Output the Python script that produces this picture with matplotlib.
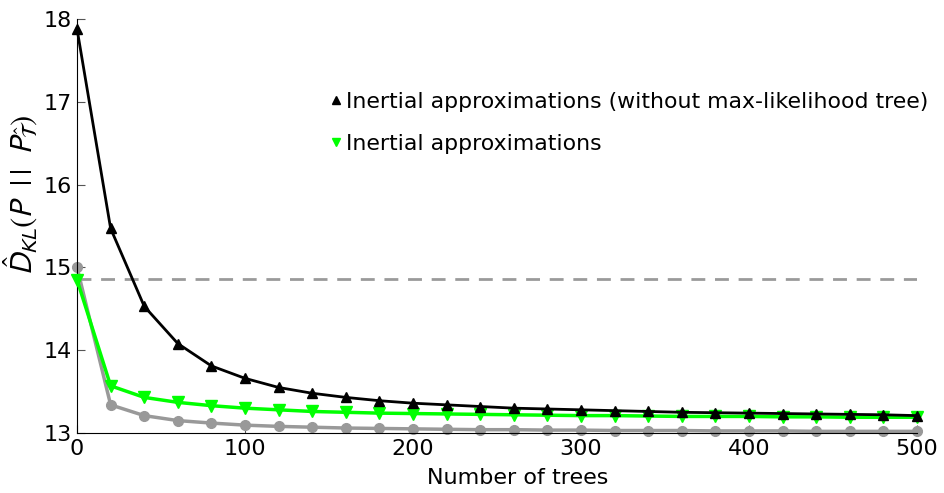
import matplotlib
matplotlib.use("Agg")
import matplotlib.pyplot as plt

plt.rcParams['font.family'] = ['DejaVu Sans']
plt.rcParams['mathtext.fontset'] = 'stixsans'

n_trees = list(range(0, 501, 20))

# KL divergence estimates per number of trees
kl_no_ml = [17.88, 15.47, 14.53, 14.08, 13.81, 13.66, 13.55, 13.48, 13.43, 13.39,
            13.36, 13.34, 13.32, 13.30, 13.29, 13.28, 13.27, 13.26, 13.25, 13.245,
            13.24, 13.235, 13.23, 13.225, 13.22, 13.21]
kl_inertial = [14.85, 13.57, 13.43, 13.37, 13.33, 13.30, 13.28, 13.26, 13.25, 13.24,
               13.235, 13.23, 13.225, 13.22, 13.215, 13.21, 13.21, 13.205, 13.20, 13.20,
               13.20, 13.195, 13.195, 13.19, 13.19, 13.19]
kl_gray = [15.0, 13.34, 13.21, 13.15, 13.12, 13.095, 13.08, 13.07, 13.06, 13.055,
           13.05, 13.045, 13.04, 13.04, 13.035, 13.035, 13.03, 13.03, 13.03, 13.025,
           13.025, 13.025, 13.02, 13.02, 13.02, 13.02]
ml_tree = 14.86

fig = plt.figure(figsize=(9.44, 4.93), dpi=100)
ax = fig.add_axes([0.0816, 0.1217, 0.8898, 0.8398])

ax.axhline(ml_tree, color='#9a9a9a', lw=2, ls=(0, (5, 3.5)), zorder=1)
ax.plot(n_trees, kl_gray, color='#999999', lw=2.5, marker='o', ms=7, clip_on=False, zorder=2)
ax.plot(n_trees, kl_inertial, color='#00ff00', lw=2.5, marker='v', ms=8, clip_on=False, zorder=3,
        label='Inertial approximations')
ax.plot(n_trees, kl_no_ml, color='black', lw=2, marker='^', ms=7.5, clip_on=False, zorder=4,
        label='Inertial approximations (without max-likelihood tree)')

ax.set_xlim(0, 500)
ax.set_ylim(13, 18)
ax.set_xticks([0, 100, 200, 300, 400, 500])
ax.set_yticks([13, 14, 15, 16, 17, 18])
ax.tick_params(direction='in', labelsize=16, length=6, color='#555555', pad=4)
ax.spines['top'].set_visible(False)
ax.spines['right'].set_visible(False)
ax.set_xlabel('Number of trees', fontsize=16)
ax.xaxis.set_label_coords(0.525, -0.085)
ax.set_ylabel(r'$\hat{D}_{KL}(P\ \ |\:|\ \ P_{\hat{\mathcal{T}}})$', fontsize=22)
ax.yaxis.set_label_coords(-0.044, 0.575)

handles, labels = ax.get_legend_handles_labels()
leg = ax.legend(handles[::-1], labels[::-1], loc='upper left', bbox_to_anchor=(310 / 944, 1 - 72 / 493),
                bbox_transform=fig.transFigure, frameon=False, fontsize=15.8,
                handlelength=0.55, handletextpad=0.2, labelspacing=1.0, markerscale=0.7)
for h in leg.legend_handles:
    h.set_linestyle('none')

fig.savefig('out.png', dpi=100)
